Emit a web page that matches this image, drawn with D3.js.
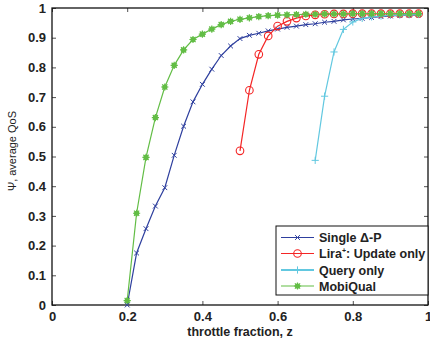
<!DOCTYPE html>
<html>
<head>
<meta charset="utf-8">
<script src="https://cdn.jsdelivr.net/npm/d3@7"></script>
<style>
  body { margin: 0; background: #fff; }
  text { font-family: "Liberation Sans", Arial, Helvetica, sans-serif; }
</style>
</head>
<body>
<script>
// throttle fraction values for each series
var zSingle = [0.2, 0.225, 0.25, 0.275, 0.3, 0.325, 0.35, 0.375, 0.4, 0.425, 0.45, 0.475,
               0.5, 0.525, 0.55, 0.575, 0.6, 0.625, 0.65, 0.675, 0.7, 0.725, 0.75, 0.775,
               0.8, 0.825, 0.85, 0.875, 0.9, 0.925, 0.95, 0.975];
var qosSingle = [0.0, 0.175, 0.257, 0.333, 0.395, 0.504, 0.602, 0.684, 0.743, 0.794, 0.840, 0.872,
                 0.897, 0.908, 0.915, 0.923, 0.929, 0.935, 0.939, 0.944, 0.947, 0.952, 0.955, 0.960,
                 0.963, 0.965, 0.968, 0.971, 0.973, 0.975, 0.976, 0.977];

var zLira = [0.5, 0.525, 0.55, 0.575, 0.6, 0.625, 0.65, 0.675, 0.7, 0.725, 0.75, 0.775,
             0.8, 0.825, 0.85, 0.875, 0.9, 0.925, 0.95, 0.975];
var qosLira = [0.519, 0.723, 0.844, 0.906, 0.939, 0.955, 0.966, 0.973, 0.977, 0.979, 0.980, 0.980,
               0.981, 0.981, 0.981, 0.981, 0.981, 0.981, 0.981, 0.981];

var zQuery = [0.7, 0.725, 0.75, 0.775, 0.8, 0.825, 0.85, 0.875, 0.9, 0.925, 0.95, 0.975];
var qosQuery = [0.487, 0.703, 0.852, 0.928, 0.953, 0.965, 0.970, 0.973, 0.975, 0.976, 0.977, 0.978];

var zMobi = zSingle;
var qosMobi = [0.015, 0.309, 0.497, 0.631, 0.734, 0.807, 0.859, 0.894, 0.912, 0.929, 0.944, 0.955,
               0.962, 0.967, 0.971, 0.974, 0.976, 0.977, 0.978, 0.979, 0.979, 0.980, 0.980, 0.980,
               0.981, 0.981, 0.981, 0.981, 0.981, 0.981, 0.981, 0.981];

var seriesNames = ["Single \u0394-P", "Lira", "Query only", "MobiQual"];
var xTicks = [0, 0.2, 0.4, 0.6, 0.8, 1];
var yTicks = [0, 0.1, 0.2, 0.3, 0.4, 0.5, 0.6, 0.7, 0.8, 0.9, 1];

var width = 430, height = 343;
var plotLeft = 52, plotRight = 428, plotTop = 8, plotBottom = 305;

var svg = d3.select("body").append("svg")
    .attr("width", width)
    .attr("height", height);

var x = d3.scaleLinear().domain([0, 1]).range([plotLeft, plotRight]);
var y = d3.scaleLinear().domain([0, 1]).range([plotBottom, plotTop]);

// ticks on all four sides, pointing inwards
var tickLen = 4;
svg.append("g").attr("transform", "translate(0," + plotBottom + ")")
    .call(d3.axisBottom(x).tickValues(xTicks).tickSizeInner(-tickLen).tickSizeOuter(0)
          .tickPadding(7).tickFormat(d3.format("")));
svg.append("g").attr("transform", "translate(0," + plotTop + ")")
    .call(d3.axisTop(x).tickValues(xTicks).tickSizeInner(-tickLen).tickSizeOuter(0).tickFormat(""));
svg.append("g").attr("transform", "translate(" + plotLeft + ",0)")
    .call(d3.axisLeft(y).tickValues(yTicks).tickSizeInner(-tickLen).tickSizeOuter(0)
          .tickPadding(6).tickFormat(d3.format("")));
svg.append("g").attr("transform", "translate(" + plotRight + ",0)")
    .call(d3.axisRight(y).tickValues(yTicks).tickSizeInner(-tickLen).tickSizeOuter(0).tickFormat(""));

svg.selectAll(".domain").remove();
svg.selectAll(".tick line").attr("stroke", "#222").attr("stroke-width", 0.8);
svg.selectAll(".tick text")
    .attr("font-size", 13)
    .attr("font-weight", "bold")
    .attr("fill", "#222");

// plot box
svg.append("rect")
    .attr("x", plotLeft).attr("y", plotTop)
    .attr("width", plotRight - plotLeft).attr("height", plotBottom - plotTop)
    .attr("fill", "none").attr("stroke", "#111").attr("stroke-width", 1.3);

// axis titles
svg.append("text")
    .attr("x", (plotLeft + plotRight) / 2).attr("y", 336)
    .attr("text-anchor", "middle")
    .attr("font-size", 12.5).attr("font-weight", "bold").attr("fill", "#222")
    .text("throttle fraction, z");

svg.append("text")
    .attr("transform", "translate(16,151) rotate(-90)")
    .attr("text-anchor", "middle")
    .attr("font-size", 11).attr("fill", "#222")
    .text("\u03a8, average QoS");

var line = d3.line()
    .x(function(d) { return x(d[0]); })
    .y(function(d) { return y(d[1]); });

function drawMarker(g, type, color) {
    var s = 3;
    if (type == "x") {
        g.append("path").attr("d", "M" + -s * 0.8 + "," + -s * 0.8 + "L" + s * 0.8 + "," + s * 0.8 +
                                   "M" + -s * 0.8 + "," + s * 0.8 + "L" + s * 0.8 + "," + -s * 0.8)
            .attr("stroke", color).attr("stroke-width", 1).attr("fill", "none");
    } else if (type == "o") {
        g.append("circle").attr("r", 3.8)
            .attr("stroke", color).attr("stroke-width", 1.1).attr("fill", "none");
    } else if (type == "+") {
        g.append("path").attr("d", "M" + -s * 1.2 + ",0L" + s * 1.2 + ",0M0," + -s * 1.2 + "L0," + s * 1.2)
            .attr("stroke", color).attr("stroke-width", 1).attr("fill", "none");
    } else {
        g.append("circle").attr("r", 2.6).attr("fill", color);
        g.append("path").attr("d", "M-3.6,0L3.6,0M0,-3.6L0,3.6M-2.6,-2.6L2.6,2.6M-2.6,2.6L2.6,-2.6")
            .attr("stroke", color).attr("stroke-width", 1.2).attr("fill", "none");
    }
}

var series = [
    {name: seriesNames[0], z: zSingle, q: qosSingle, color: "#2e3f9e", marker: "x"},
    {name: seriesNames[1], z: zLira, q: qosLira, color: "#f42525", marker: "o"},
    {name: seriesNames[2], z: zQuery, q: qosQuery, color: "#62c8e0", marker: "+"},
    {name: seriesNames[3], z: zMobi, q: qosMobi, color: "#62bd45", marker: "*"}
];

series.forEach(function(s) {
    var pts = d3.zip(s.z, s.q);
    svg.append("path")
        .datum(pts)
        .attr("d", line)
        .attr("fill", "none")
        .attr("stroke", s.color)
        .attr("stroke-width", 1.2);
    svg.append("g").selectAll("g")
        .data(pts)
        .enter()
        .append("g")
        .attr("transform", function(d) { return "translate(" + x(d[0]) + "," + y(d[1]) + ")"; })
        .each(function() { drawMarker(d3.select(this), s.marker, s.color); });
});

// legend
var legend = svg.append("g");
legend.append("rect")
    .attr("x", 276).attr("y", 226)
    .attr("width", plotRight - 276).attr("height", 69)
    .attr("fill", "#fff").attr("stroke", "#111").attr("stroke-width", 1);

var rowY = [237.5, 253.5, 270, 286];
series.forEach(function(s, i) {
    var row = legend.append("g");
    row.append("line")
        .attr("x1", 281).attr("x2", 314)
        .attr("y1", rowY[i]).attr("y2", rowY[i])
        .attr("stroke", s.color).attr("stroke-width", s.marker == "+" ? 2.2 : 1.2);
    drawMarker(row.append("g").attr("transform", "translate(297.5," + rowY[i] + ")"), s.marker, s.color);
    var t = row.append("text")
        .attr("x", 319).attr("y", rowY[i] + 4.5)
        .attr("font-size", 12.5).attr("font-weight", "bold").attr("fill", "#222");
    if (s.name == "Lira") {
        t.append("tspan").text("Lira");
        t.append("tspan").attr("font-size", 7).attr("dy", -5).text("+");
        t.append("tspan").attr("dy", 5).text(": Update only");
    } else {
        t.text(s.name);
    }
});
</script>
</body>
</html>
